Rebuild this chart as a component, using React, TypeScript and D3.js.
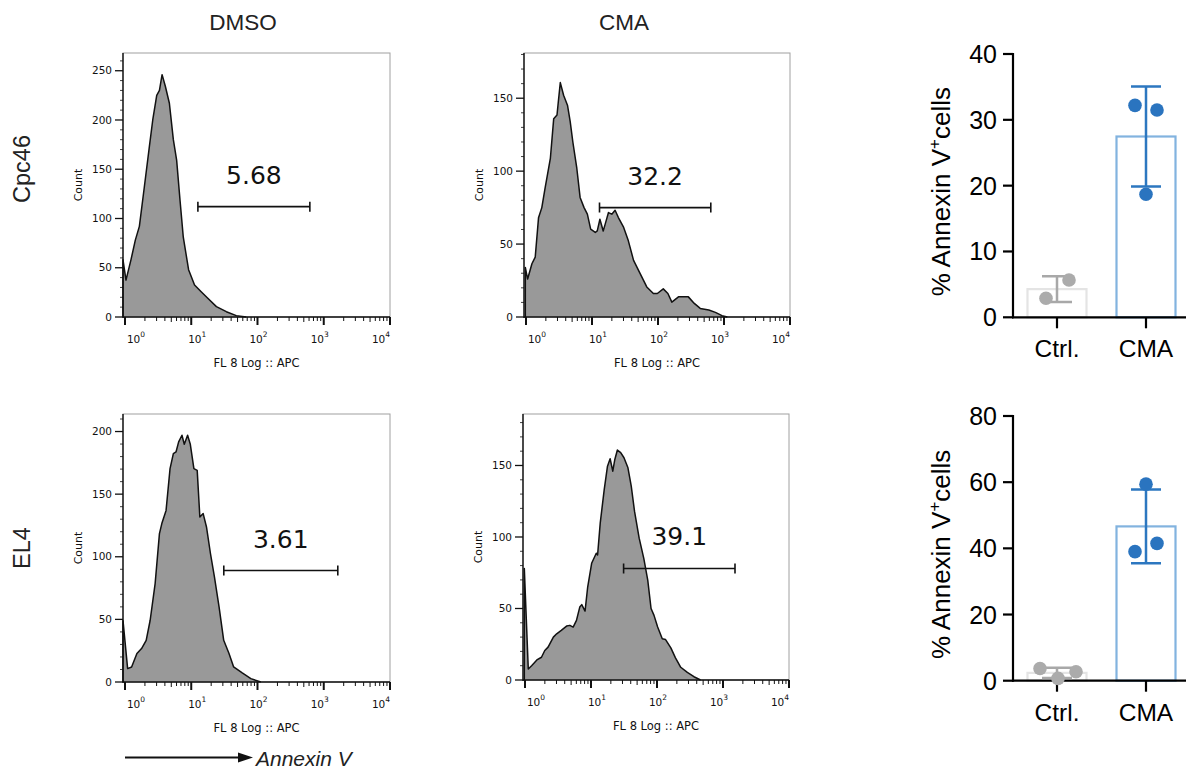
import React, { useEffect, useRef } from 'react';
import * as d3 from 'd3';

// histogram traces, [log10 FL 8 intensity, count]
const cpc46Dmso: [number, number][] = [
  [-0.03, 58], [0.015, 37.5], [0.09, 58], [0.156, 78], [0.217, 92], [0.292, 132], [0.368, 173],
  [0.419, 200], [0.479, 225], [0.52, 230], [0.56, 246], [0.61, 234], [0.67, 217], [0.73, 180],
  [0.78, 159], [0.83, 119], [0.88, 81], [0.96, 48], [1.05, 32.5], [1.15, 25.7], [1.25, 19],
  [1.38, 10.5], [1.53, 5.4], [1.68, 1.4], [1.83, 0],
];
const cpc46Cma: [number, number][] = [
  [-0.01, 34], [0.025, 26], [0.09, 36.5], [0.14, 41], [0.19, 68], [0.24, 75], [0.29, 88.6],
  [0.37, 109], [0.42, 136], [0.47, 138.5], [0.49, 147.6], [0.52, 160.7], [0.57, 152], [0.63, 145],
  [0.67, 134], [0.71, 120], [0.77, 102], [0.82, 82], [0.88, 75], [0.93, 70.5], [0.98, 60.3],
  [1.05, 58], [1.08, 59], [1.12, 67], [1.17, 59], [1.2, 63.7], [1.25, 71.6], [1.3, 70.5],
  [1.35, 73.2], [1.4, 68.2], [1.48, 61.4], [1.55, 52.4], [1.63, 38.8], [1.73, 29.7], [1.83, 20.6],
  [1.93, 16.1], [1.99, 16.1], [2.08, 19.3], [2.15, 16.1], [2.21, 10.2], [2.31, 13.8], [2.46, 13.8],
  [2.55, 9.3], [2.64, 5.9], [2.77, 4.8], [2.87, 3.2], [2.97, 0.9], [3.05, 0],
];
const el4Dmso: [number, number][] = [
  [-0.03, 49], [0.04, 10.7], [0.1, 12], [0.18, 22.7], [0.25, 26.7], [0.32, 33.3], [0.38, 49.3],
  [0.455, 78.6], [0.52, 118.5], [0.556, 126.5], [0.62, 137], [0.68, 170.4], [0.73, 182.4],
  [0.77, 183.7], [0.81, 191.7], [0.86, 197], [0.895, 189.8], [0.945, 197], [0.986, 189.8],
  [1.04, 170.4], [1.09, 169], [1.13, 131.8], [1.18, 134.5], [1.23, 123.8], [1.29, 102.6],
  [1.35, 83.9], [1.42, 59.9], [1.49, 33.3], [1.57, 22.7], [1.64, 12], [1.77, 7.2], [1.9, 2.7],
  [2.05, 0],
];
const el4Cma: [number, number][] = [
  [-0.01, 78], [0.05, 7.7], [0.1, 10], [0.18, 14], [0.25, 15.9], [0.3, 20.6], [0.35, 23],
  [0.43, 30], [0.48, 32.3], [0.55, 34.7], [0.63, 37.7], [0.68, 38.2], [0.73, 37], [0.78, 41.7],
  [0.83, 51], [0.86, 52.7], [0.91, 48.2], [0.95, 65], [1.01, 81.6], [1.08, 88.6], [1.1, 87.4],
  [1.14, 109.7], [1.2, 133], [1.25, 149.5], [1.29, 154.7], [1.33, 146], [1.36, 154], [1.4, 160.8],
  [1.45, 159], [1.5, 155.4], [1.56, 148.4], [1.61, 135.5], [1.66, 117.9], [1.73, 99.2],
  [1.8, 85.1], [1.86, 69.8], [1.91, 50], [1.955, 45.2], [2.01, 37], [2.08, 28.8], [2.13, 28.3],
  [2.21, 22.5], [2.28, 15.5], [2.36, 8.9], [2.46, 5.3], [2.56, 2.3], [2.66, 0],
];

// gates: [low, high] FL 8 intensity, count level, % positive
const cpc46DmsoGate: [number, number, number] = [12.6, 617, 112];
const cpc46CmaGate: [number, number, number] = [13.0, 631, 75];
const el4DmsoGate: [number, number, number] = [31, 1630, 89];
const el4CmaGate: [number, number, number] = [31.2, 1520, 78];
const gatePct = ['5.68', '32.2', '3.61', '39.1'];

const columnTitles = ['DMSO', 'CMA'];
const rowTitles = ['Cpc46', 'EL4'];
const decades = [0, 1, 2, 3, 4];

// % Annexin V+ cells per replicate
const groups = ['Ctrl.', 'CMA'];
const cpc46CtrlPct = [2.9, 5.66];
const cpc46CmaPct = [32.2, 31.5, 18.7];
const el4CtrlPct = [3.7, 0.7, 2.7];
const el4CmaPct = [59.4, 39.0, 41.5];
const cpc46Ticks = [0, 10, 20, 30, 40];
const el4Ticks = [0, 20, 40, 60, 80];

const histFont = '"DejaVu Sans", Verdana, sans-serif';
const sansFont = '"Liberation Sans", Arial, Helvetica, sans-serif';

const App = () => {
  const svgRef = useRef(null);

  useEffect(() => {
    const svg = d3.select(svgRef.current);
    svg.selectAll('*').remove();

    const histPanels = [
      { data: cpc46Dmso, gate: cpc46DmsoGate, pct: gatePct[0], left: 123, right: 390, top: 53, bottom: 317, yMax: 268 },
      { data: cpc46Cma, gate: cpc46CmaGate, pct: gatePct[1], left: 524, right: 790, top: 53, bottom: 317, yMax: 181 },
      { data: el4Dmso, gate: el4DmsoGate, pct: gatePct[2], left: 123, right: 390, top: 414, bottom: 682, yMax: 214 },
      { data: el4Cma, gate: el4CmaGate, pct: gatePct[3], left: 523, right: 789, top: 414, bottom: 680, yMax: 186 },
    ];

    histPanels.forEach(p => {
      const g = svg.append('g');
      const x = d3.scaleLog().domain([Math.pow(10, -0.03), 1e4]).range([p.left, p.right]).clamp(true);
      const y = d3.scaleLinear().domain([0, p.yMax]).range([p.bottom, p.top]);

      g.append('rect')
        .attr('x', p.left).attr('y', p.top)
        .attr('width', p.right - p.left).attr('height', p.bottom - p.top)
        .attr('fill', 'none').attr('stroke', '#a0a0a0').attr('stroke-width', 1);

      const pts: [number, number][] = [[p.data[0][0], 0], ...p.data, [p.data[p.data.length - 1][0], 0]];
      const line = d3.line<[number, number]>()
        .x(d => x(Math.pow(10, d[0])))
        .y(d => y(d[1]));
      g.append('path')
        .attr('d', line(pts))
        .attr('fill', '#999999')
        .attr('stroke', '#111')
        .attr('stroke-width', 1.5)
        .attr('stroke-linejoin', 'round');

      // y axis
      g.append('line')
        .attr('x1', p.left).attr('x2', p.left)
        .attr('y1', p.top).attr('y2', p.bottom + 1)
        .attr('stroke', '#111').attr('stroke-width', 1.4);
      d3.range(0, p.yMax, 10).forEach(v => {
        const major = v % 50 === 0;
        g.append('line')
          .attr('x1', p.left - (major ? 8 : 3)).attr('x2', p.left)
          .attr('y1', y(v)).attr('y2', y(v))
          .attr('stroke', '#111').attr('stroke-width', major ? 1.3 : 0.8);
        if (major) {
          g.append('text')
            .attr('x', p.left - 11).attr('y', y(v))
            .attr('dy', '0.35em')
            .attr('text-anchor', 'end')
            .attr('font-family', histFont).attr('font-size', 10.5)
            .attr('fill', '#111')
            .text(v);
        }
      });
      g.append('text')
        .attr('transform', `translate(${p.left - 41},${(p.top + p.bottom) / 2}) rotate(-90)`)
        .attr('text-anchor', 'middle')
        .attr('font-family', histFont).attr('font-size', 11)
        .attr('fill', '#111')
        .text('Count');

      // x axis
      g.append('line')
        .attr('x1', p.left).attr('x2', p.right)
        .attr('y1', p.bottom).attr('y2', p.bottom)
        .attr('stroke', '#111').attr('stroke-width', 1.4);
      decades.forEach((d, i) => {
        const xv = x(Math.pow(10, d));
        g.append('line')
          .attr('x1', xv).attr('x2', xv)
          .attr('y1', p.bottom).attr('y2', p.bottom + 8)
          .attr('stroke', '#111').attr('stroke-width', 2);
        if (d < 4) {
          d3.range(2, 10).forEach(k => {
            const xm = x(k * Math.pow(10, d));
            g.append('line')
              .attr('x1', xm).attr('x2', xm)
              .attr('y1', p.bottom).attr('y2', p.bottom + (k === 5 ? 5 : 4))
              .attr('stroke', '#111').attr('stroke-width', 1);
          });
        }
        const lx = p.left + 13 + i * ((p.right - 9) - (p.left + 13)) / 4;
        const t = g.append('text')
          .attr('x', lx).attr('y', p.bottom + 26)
          .attr('text-anchor', 'middle')
          .attr('font-family', histFont).attr('font-size', 10.5)
          .attr('fill', '#111');
        t.append('tspan').text('10');
        t.append('tspan').attr('dy', -6).attr('font-size', 7.5).text(d);
      });
      g.append('text')
        .attr('x', (p.left + p.right) / 2).attr('y', p.bottom + 50)
        .attr('text-anchor', 'middle')
        .attr('font-family', histFont).attr('font-size', 11.5)
        .attr('fill', '#111')
        .text('FL 8 Log :: APC');

      // gate
      const [lo, hi, level] = p.gate;
      const gx0 = x(lo), gx1 = x(hi), gy = y(level);
      g.append('path')
        .attr('d', `M${gx0},${gy - 5}V${gy + 5}M${gx0},${gy}H${gx1}M${gx1},${gy - 5}V${gy + 5}`)
        .attr('fill', 'none').attr('stroke', '#111').attr('stroke-width', 1.6);
      g.append('text')
        .attr('x', x(Math.sqrt(lo * hi))).attr('y', gy - 23)
        .attr('text-anchor', 'middle')
        .attr('font-family', histFont).attr('font-size', 25)
        .attr('fill', '#111')
        .text(p.pct);
    });

    // column and row titles
    [243, 624].forEach((cx, i) => {
      svg.append('text')
        .attr('x', cx).attr('y', 30)
        .attr('text-anchor', 'middle')
        .attr('font-family', sansFont).attr('font-size', 22.5)
        .attr('fill', '#222')
        .text(columnTitles[i]);
    });
    [169, 548].forEach((cy, i) => {
      svg.append('text')
        .attr('transform', `translate(30,${cy}) rotate(-90)`)
        .attr('text-anchor', 'middle')
        .attr('font-family', sansFont).attr('font-size', 23.5)
        .attr('fill', '#222')
        .text(rowTitles[i]);
    });

    // Annexin V arrow
    svg.append('line')
      .attr('x1', 125).attr('x2', 242).attr('y1', 757.5).attr('y2', 757.5)
      .attr('stroke', '#111').attr('stroke-width', 2);
    svg.append('path')
      .attr('d', 'M238,752.5L253,757.5L238,762.5Z')
      .attr('fill', '#111');
    svg.append('text')
      .attr('x', 256).attr('y', 766)
      .attr('font-family', sansFont).attr('font-size', 21)
      .attr('font-style', 'italic')
      .attr('fill', '#222')
      .text('Annexin V');

    // bar charts
    const barPanels = [
      { ctrl: cpc46CtrlPct, cma: cpc46CmaPct, ticks: cpc46Ticks, y0: 317.3, y1: 54,
        jitter: [[-11, 12], [-11, 11, 0]] },
      { ctrl: el4CtrlPct, cma: el4CmaPct, ticks: el4Ticks, y0: 680.7, y1: 416,
        jitter: [[-17, 1, 19], [0, -11, 11]] },
    ];
    const axisX = 1013;
    const strokeCols = ['#e4e4e4', '#82b3df'];
    const errCols = ['#a8a8a8', '#2c77c0'];
    const dotCols = ['#ababab', '#2a74bf'];

    barPanels.forEach(b => {
      const g = svg.append('g');
      const yMax = b.ticks[b.ticks.length - 1];
      const y = d3.scaleLinear().domain([0, yMax]).range([b.y0, b.y1]);
      const x = d3.scaleBand().domain(groups).range([1012.5, 1190.5]).paddingInner(0.337).paddingOuter(0.1685);
      const series = [b.ctrl, b.cma];

      series.forEach((vals, i) => {
        const mean = d3.mean(vals) as number;
        g.append('rect')
          .attr('x', x(groups[i]) as number).attr('y', y(mean))
          .attr('width', x.bandwidth()).attr('height', y(0) - y(mean))
          .attr('fill', '#fff').attr('stroke', strokeCols[i]).attr('stroke-width', 2.2);
      });

      // axes
      g.append('line')
        .attr('x1', axisX).attr('x2', axisX).attr('y1', y(yMax) - 1).attr('y2', y(0) + 1)
        .attr('stroke', '#000').attr('stroke-width', 2.2);
      g.append('line')
        .attr('x1', axisX - 1).attr('x2', 1186).attr('y1', y(0)).attr('y2', y(0))
        .attr('stroke', '#000').attr('stroke-width', 2.2);
      b.ticks.forEach(t => {
        g.append('line')
          .attr('x1', axisX - 10).attr('x2', axisX).attr('y1', y(t)).attr('y2', y(t))
          .attr('stroke', '#000').attr('stroke-width', 2.2);
        g.append('text')
          .attr('x', axisX - 16).attr('y', y(t))
          .attr('dy', '0.36em')
          .attr('text-anchor', 'end')
          .attr('font-family', sansFont).attr('font-size', 25)
          .attr('fill', '#000')
          .text(t);
      });
      groups.forEach(gr => {
        const cx = (x(gr) as number) + x.bandwidth() / 2;
        g.append('line')
          .attr('x1', cx).attr('x2', cx).attr('y1', y(0)).attr('y2', y(0) + 11)
          .attr('stroke', '#000').attr('stroke-width', 2.2);
        g.append('text')
          .attr('x', cx).attr('y', y(0) + 40)
          .attr('text-anchor', 'middle')
          .attr('font-family', sansFont).attr('font-size', 24.5)
          .attr('fill', '#000')
          .text(gr);
      });

      // error bars (mean ± SD) and replicate dots
      series.forEach((vals, i) => {
        const cx = (x(groups[i]) as number) + x.bandwidth() / 2;
        const mean = d3.mean(vals) as number;
        const sd = d3.deviation(vals) as number;
        const hiY = y(mean + sd), loY = y(mean - sd);
        g.append('path')
          .attr('d', `M${cx - 15},${hiY}H${cx + 15}M${cx},${hiY}V${loY}M${cx - 15},${loY}H${cx + 15}`)
          .attr('fill', 'none').attr('stroke', errCols[i]).attr('stroke-width', 2.5);
        vals.forEach((v, j) => {
          g.append('circle')
            .attr('cx', cx + b.jitter[i][j]).attr('cy', y(v))
            .attr('r', 6.8)
            .attr('fill', dotCols[i]);
        });
      });

      const t = g.append('text')
        .attr('transform', `translate(950,${(b.y0 + b.y1) / 2 + 6}) rotate(-90)`)
        .attr('text-anchor', 'middle')
        .attr('font-family', sansFont).attr('font-size', 26)
        .attr('fill', '#000');
      t.append('tspan').text('% Annexin V');
      t.append('tspan').attr('dy', -10).attr('font-size', 17).text('+');
      t.append('tspan').attr('dy', 10).text('cells');
    });
  }, []);

  return (
    <svg
      ref={svgRef}
      width={1186}
      height={774}
      style={{ position: 'absolute', left: 0, top: 0, background: '#fff' }}
    />
  );
};

export default App;
